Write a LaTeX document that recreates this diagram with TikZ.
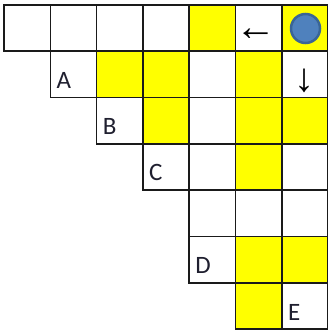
\documentclass[tikz,border=0pt]{standalone}
\usepackage{fontspec}
\setmainfont{Carlito}
\newfontfamily\arrowfont{Liberation Sans}
\definecolor{cellyellow}{HTML}{FFFF00}
\definecolor{gridline}{HTML}{1A1A1A}
\definecolor{ballfill}{HTML}{4F81BD}
\definecolor{balledge}{HTML}{3A6596}
\definecolor{labeltext}{HTML}{1F1F2F}
\begin{document}
\begin{tikzpicture}[x=1pt,y=-1pt,
  cellbox/.style={draw=gridline,line width=1.6pt,fill=white},
  yelbox/.style={draw=gridline,line width=1.6pt,fill=cellyellow},
  lbl/.style={anchor=south west,inner sep=0pt,font=\fontsize{25}{25}\selectfont,text=labeltext}]
\useasboundingbox (0,0) rectangle (327,331);
\def\cw{46.3}
\def\xo{4}
\def\yo{5}
% rows: row/startcol
\foreach \r/\s in {0/0,1/1,2/2,3/3,4/4,5/4,6/5}{
  \foreach \c in {\s,...,6}{
    \draw[cellbox] ({\xo+\c*\cw},{\yo+\r*\cw}) rectangle ({\xo+(\c+1)*\cw},{\yo+(\r+1)*\cw});
  }
}
\foreach \r/\c in {0/4,0/6,1/2,1/3,1/5,2/3,2/5,2/6,3/5,5/5,5/6,6/5}{
  \draw[yelbox] ({\xo+\c*\cw},{\yo+\r*\cw}) rectangle ({\xo+(\c+1)*\cw},{\yo+(\r+1)*\cw});
}
% ball
\node[circle,draw=balledge,line width=2.5pt,fill=ballfill,minimum size=29pt,inner sep=0pt] (ball) at (305.5,28.5) {};
% arrows
\node[inner sep=0pt,font=\arrowfont\fontsize{41}{41}\selectfont] (larrow) at (256,35) {←};
\node[inner sep=0pt,font=\arrowfont\fontsize{40}{40}\selectfont] (darrow) at (304,81) {↓};
% labels
\node[lbl] (A) at ({\xo+1*\cw+6},{\yo+2*\cw-9}) {A};
\node[lbl] (B) at ({\xo+2*\cw+6},{\yo+3*\cw-9}) {B};
\node[lbl] (C) at ({\xo+3*\cw+6},{\yo+4*\cw-9}) {C};
\node[lbl] (D) at ({\xo+4*\cw+6},{\yo+6*\cw-9}) {D};
\node[lbl] (E) at ({\xo+6*\cw+6},{\yo+7*\cw-8}) {E};
\end{tikzpicture}
\end{document}
